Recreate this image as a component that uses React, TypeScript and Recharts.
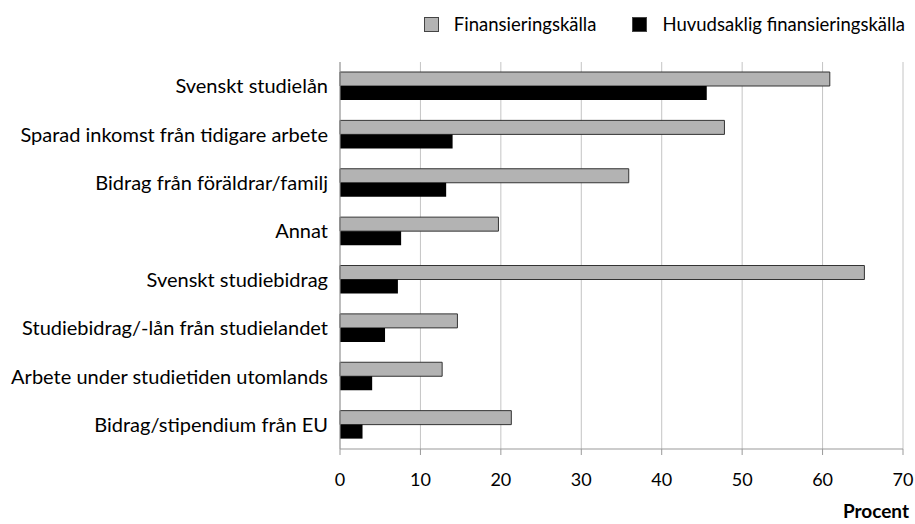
import { Bar, BarChart, CartesianGrid, Legend, XAxis, YAxis } from 'recharts'

const categories = [
  'Svenskt studielån',
  'Sparad inkomst från tidigare arbete',
  'Bidrag från föräldrar/familj',
  'Annat',
  'Svenskt studiebidrag',
  'Studiebidrag/-lån från studielandet',
  'Arbete under studietiden utomlands',
  'Bidrag/stipendium från EU',
]
const finansiering = [60.9, 47.8, 35.9, 19.7, 65.2, 14.6, 12.7, 21.3]
const huvudsaklig = [45.6, 14.0, 13.2, 7.6, 7.2, 5.6, 4.0, 2.8]
const xTicks = [0, 10, 20, 30, 40, 50, 60, 70]
const boundaryTicks = [0, 1, 2, 3, 4, 5, 6, 7, 8]

const data = categories.map((name, i) => ({
  name,
  fin: finansiering[i],
  huv: huvudsaklig[i],
}))

const FONT = 'Lato, "DejaVu Sans", sans-serif'

function LegendBox() {
  const item = (fill: string, label: string, first: boolean) => (
    <span style={{ display: 'inline-flex', alignItems: 'center', marginLeft: first ? 0 : 36 }}>
      <span
        style={{
          width: 13,
          height: 13,
          background: fill,
          border: '1px solid #444',
          marginRight: 15,
          display: 'inline-block',
        }}
      />
      <span>{label}</span>
    </span>
  )
  return (
    <div style={{ fontFamily: FONT, fontSize: 18.5, color: '#000', whiteSpace: 'nowrap' }}>
      {item('#b3b3b3', 'Finansieringskälla', true)}
      {item('#000', 'Huvudsaklig finansieringskälla', false)}
    </div>
  )
}

export default function App() {
  return (
    <div style={{ position: 'absolute', left: 0, top: 0, background: '#fff' }}>
      <BarChart
        width={915}
        height={524}
        data={data}
        layout="vertical"
        margin={{ top: 62, right: 12, left: 0, bottom: 6 }}
        barSize={14}
        barGap={0}
        style={{ fontFamily: FONT }}
      >
        <CartesianGrid horizontal={false} stroke="#c4c4c4" yAxisId="cat" />
        <XAxis
          type="number"
          domain={[0, 70]}
          ticks={xTicks}
          height={69}
          tickSize={6}
          tickMargin={18}
          axisLine={{ stroke: '#999' }}
          tickLine={{ stroke: '#999' }}
          tick={{ fontSize: 18, fill: '#000' }}
          label={{
            value: 'Procent',
            position: 'insideBottomRight',
            offset: 0,
            dx: 6,
            style: { fontSize: 19, fontWeight: 700, fill: '#000' },
          }}
        />
        <YAxis
          yAxisId="bounds"
          type="number"
          domain={[0, 8]}
          ticks={boundaryTicks}
          width={0}
          tick={false}
          axisLine={false}
          tickSize={5}
          tickLine={{ stroke: '#999' }}
        />
        <YAxis
          yAxisId="cat"
          type="category"
          dataKey="name"
          width={340}
          tickSize={0}
          tickMargin={12}
          axisLine={{ stroke: '#999' }}
          tickLine={false}
          tick={{ fontSize: 20, fill: '#000' }}
        />
        <Legend
          verticalAlign="middle"
          wrapperStyle={{ top: 13, left: 'auto', right: 10, width: 'auto' }}
          content={() => <LegendBox />}
        />
        <Bar
          yAxisId="cat"
          dataKey="fin"
          name="Finansieringskälla"
          fill="#b3b3b3"
          stroke="#333"
          strokeWidth={1}
          isAnimationActive={false}
        />
        <Bar
          yAxisId="cat"
          dataKey="huv"
          name="Huvudsaklig finansieringskälla"
          fill="#000"
          isAnimationActive={false}
        />
      </BarChart>
    </div>
  )
}
